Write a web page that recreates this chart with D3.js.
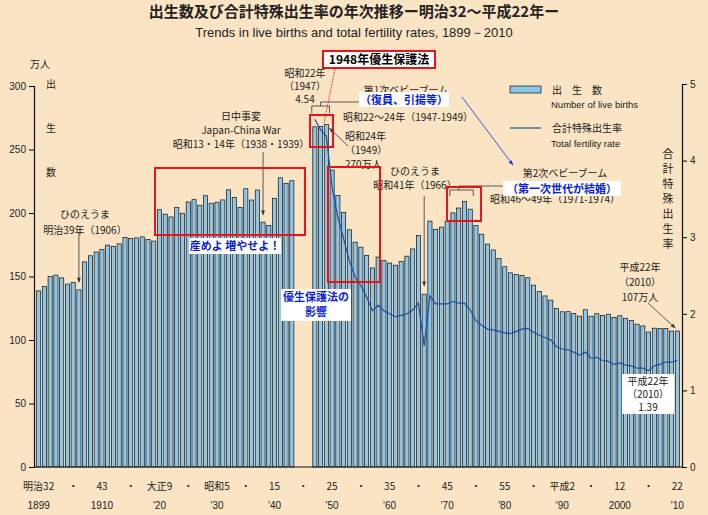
<!DOCTYPE html>
<html><head><meta charset="utf-8">
<script src="https://cdn.jsdelivr.net/npm/d3@7"></script>
<style>body{margin:0;background:#fbe4c4;} svg{display:block;font-family:"Noto Sans CJK JP","Liberation Sans",sans-serif;}</style>
</head><body>
<svg id="chart" width="708" height="515"></svg>
<script>
// births (10k persons), 1899-2010; null = no data
var years = d3.range(1899, 2011);
var births = [138.7,142.1,150.1,151.1,148.9,144.0,145.3,139.5,161.5,166.3,169.3,171.2,174.7,173.7,175.7,180.8,179.9,180.4,181.2,179.2,177.9,
  202.6,199.1,196.9,204.3,199.8,208.7,210.5,206.1,213.6,207.7,208.5,210.3,218.3,212.1,204.4,219.1,210.2,218.1,192.8,190.2,211.6,227.7,223.4,225.4,
  null,null,null,
  267.9,268.2,269.7,233.8,213.8,200.5,186.8,177.0,173.1,166.5,156.7,165.3,162.6,160.6,158.9,161.9,166.0,171.7,182.4,136.1,193.6,187.2,188.9,
  193.4,200.1,203.9,209.2,203.0,190.1,183.3,175.5,170.9,164.3,157.7,152.9,151.5,150.9,149.0,143.2,138.3,134.7,131.4,124.7,122.2,122.3,120.9,
  118.8,123.8,118.7,120.7,119.2,120.3,117.8,119.1,117.1,115.4,112.4,111.1,106.3,109.3,109.0,109.1,107.0,107.1];
var tfrYears = d3.range(1947, 2011);
var tfr = [4.54,4.40,4.32,3.65,3.26,2.98,2.69,2.48,2.37,2.22,2.04,2.11,2.04,2.00,1.96,1.98,2.00,2.05,2.14,1.58,2.23,2.13,2.13,2.13,2.16,2.14,
  2.14,2.05,1.91,1.85,1.80,1.79,1.77,1.75,1.74,1.77,1.80,1.81,1.76,1.72,1.69,1.66,1.57,1.54,1.53,1.50,1.46,1.50,1.42,1.43,1.39,1.38,1.34,
  1.36,1.33,1.32,1.29,1.29,1.26,1.32,1.34,1.37,1.37,1.39];
var tickYears = [1899,1910,1920,1930,1940,1950,1960,1970,1980,1990,2000,2010];
var tickEra = ["明治32","43","大正9","昭和5","15","25","35","45","55","平成2","12","22"];
var tickWestern = ["1899","1910","'20","'30","'40","'50","'60","'70","'80","'90","2000","'10"];
var dotYears = [1905,1915,1925,1935,1945,1955,1965,1975,1985,1995,2005];

var svg = d3.select("#chart");
var mLeft = 34, mRight = 682, mTop = 86, mBottom = 467;

var x = d3.scaleBand().domain(years).range([mLeft + 2, mRight - 2]).paddingInner(0.28).paddingOuter(0.1);
var y = d3.scaleLinear().domain([0, 300]).range([mBottom, mTop]);
var y2 = d3.scaleLinear().domain([0, 5]).range([mBottom, 84]);
var cx = function(yr) { return x(yr) + x.bandwidth() / 2; };

// titles
svg.append("text").attr("x", 354).attr("y", 17).attr("text-anchor", "middle").attr("font-size", 15).attr("font-weight", "bold").attr("fill", "#222")
  .text("出生数及び合計特殊出生率の年次推移ー明治32～平成22年ー");
svg.append("text").attr("x", 354).attr("y", 37).attr("text-anchor", "middle").attr("font-size", 13).attr("fill", "#222")
  .attr("font-family", "Liberation Sans, sans-serif")
  .text("Trends in live births and total fertility rates, 1899－2010");

// bars
svg.append("g").selectAll("rect").data(years.map(function(d, i) { return {yr: d, v: births[i]}; }).filter(function(d) { return d.v != null; }))
  .enter().append("rect")
  .attr("x", function(d) { return x(d.yr); }).attr("width", x.bandwidth())
  .attr("y", function(d) { return y(d.v); }).attr("height", function(d) { return mBottom - y(d.v); })
  .attr("fill", "#8ec6ea").attr("stroke", "#111").attr("stroke-width", 0.7);

// TFR line
svg.append("path").datum(tfrYears.map(function(d, i) { return [d, tfr[i]]; }))
  .attr("d", d3.line().x(function(d) { return cx(d[0]); }).y(function(d) { return y2(d[1]); }))
  .attr("fill", "none").attr("stroke", "#1b4fa3").attr("stroke-width", 1.2);

// axes
var gl = svg.append("g").attr("transform", "translate(" + mLeft + ",0)").call(d3.axisLeft(y).tickValues(d3.range(0, 301, 50)).tickSize(5));
var gr = svg.append("g").attr("transform", "translate(" + mRight + ",0)").call(d3.axisRight(y2).ticks(5).tickSize(5));
[gl, gr].forEach(function(g) {
  g.select(".domain").attr("stroke", "#111").attr("stroke-width", 1.2);
  g.selectAll("text").attr("font-size", 10).attr("font-family", "Liberation Sans, sans-serif").attr("fill", "#222");
});
svg.append("line").attr("x1", mLeft).attr("x2", mRight).attr("y1", mBottom).attr("y2", mBottom).attr("stroke", "#111").attr("stroke-width", 1.2);

// x labels
var xl = svg.append("g").attr("font-size", 10).attr("fill", "#222").attr("text-anchor", "middle");
tickYears.forEach(function(yr, i) {
  xl.append("text").attr("x", cx(yr)).attr("y", 490).text(tickEra[i]);
  xl.append("text").attr("x", cx(yr)).attr("y", 509).attr("font-family", "Liberation Sans, sans-serif").text(tickWestern[i]);
});
dotYears.forEach(function(yr) { xl.append("text").attr("x", cx(yr)).attr("y", 490).text("・"); });

// axis titles
svg.append("text").attr("x", 30).attr("y", 68).attr("font-size", 10).attr("fill", "#222").text("万人");
["出", "生", "数"].forEach(function(c, i) {
  svg.append("text").attr("x", 46).attr("y", 88 + i * 44).attr("font-size", 10).attr("fill", "#222").text(c);
});
"合計特殊出生率".split("").forEach(function(c, i) {
  svg.append("text").attr("x", 668).attr("y", 158 + i * 15).attr("text-anchor", "middle").attr("font-size", 11).attr("fill", "#222").text(c);
});

// legend
svg.append("rect").attr("x", 510).attr("y", 86).attr("width", 31).attr("height", 7).attr("fill", "#8ec6ea").attr("stroke", "#111").attr("stroke-width", 0.7);
svg.append("text").attr("x", 552).attr("y", 94).attr("font-size", 10).attr("fill", "#222").text("出　生　数");
svg.append("text").attr("x", 551).attr("y", 108).attr("font-size", 9.5).attr("fill", "#222").attr("font-family", "Liberation Sans, sans-serif").text("Number of live births");
svg.append("line").attr("x1", 510).attr("x2", 541).attr("y1", 128).attr("y2", 128).attr("stroke", "#1b4fa3").attr("stroke-width", 1.2);
svg.append("text").attr("x", 552).attr("y", 132).attr("font-size", 10).attr("fill", "#222").text("合計特殊出生率");
svg.append("text").attr("x", 551).attr("y", 147).attr("font-size", 9.5).attr("fill", "#222").attr("font-family", "Liberation Sans, sans-serif").text("Total fertility rate");

// text annotations
function note(lines, px, py, opt) {
  opt = opt || {};
  var t = svg.append("text").attr("x", px).attr("y", py).attr("text-anchor", opt.anchor || "middle")
    .attr("font-size", opt.size || 10).attr("fill", opt.fill || "#222").attr("font-weight", opt.bold ? "bold" : null);
  lines.forEach(function(l, i) { t.append("tspan").attr("x", px).attr("dy", i ? (opt.lh || 14) : 0).text(l); });
  return t;
}
function arrow(x1, y1, x2, y2, col) {
  svg.append("line").attr("x1", x1).attr("y1", y1).attr("x2", x2).attr("y2", y2).attr("stroke", col || "#333").attr("stroke-width", 0.8);
  var a = Math.atan2(y2 - y1, x2 - x1), s = 5;
  svg.append("path").attr("d", "M" + x2 + "," + y2 + "L" + (x2 - s * Math.cos(a - 0.4)) + "," + (y2 - s * Math.sin(a - 0.4)) +
    "L" + (x2 - s * Math.cos(a + 0.4)) + "," + (y2 - s * Math.sin(a + 0.4)) + "Z").attr("fill", col || "#333");
}
function box(x0, y0, w, h) {
  svg.append("rect").attr("x", x0).attr("y", y0).attr("width", w).attr("height", h).attr("fill", "none").attr("stroke", "#e8141c").attr("stroke-width", 2);
}
function label(lines, px, py, w, h, col) {
  svg.append("rect").attr("x", px - w / 2).attr("y", py - 12).attr("width", w).attr("height", h).attr("fill", "#fff");
  note(lines, px, py, {bold: true, fill: col, size: 11, lh: 15});
}

note(["ひのえうま", "明治39年（1906）"], 85, 218, {lh: 16});
arrow(cx(1906), 232, cx(1906), y(143) - 3);
note(["日中事変", "Japan-China War", "昭和13・14年（1938・1939）"], 241, 120, {lh: 14});
arrow(cx(1938), 152, cx(1938), y(196) - 3);
note(["昭和22年", "（1947）", "4.54"], 305, 77, {lh: 13});
svg.append("path").attr("d", "M" + (x(1947) - 1) + ",113V106H" + (x(1949) + x.bandwidth() + 1) + "V113 M" + cx(1948) + ",106V102H" + (x(1949) + x.bandwidth() + 1))
  .attr("fill", "none").attr("stroke", "#333").attr("stroke-width", 0.8);
svg.append("line").attr("x1", x(1949) + x.bandwidth() + 1).attr("x2", 362).attr("y1", 102).attr("y2", 102).attr("stroke", "#333").attr("stroke-width", 0.8);
note(["昭和24年", "（1949）", "270万人"], 345, 140, {anchor: "start", lh: 14});
arrow(348, 146, cx(1949) + 3, y(270) + 4);
note(["第1次ベビーブーム"], 406, 94);
note(["昭和22～24年（1947-1949）"], 408, 121);
note(["ひのえうま", "昭和41年（1966）"], 415, 175, {lh: 14});
arrow(cx(1966), 196, cx(1966), y(140) - 3);
note(["第2次ベビーブーム"], 565, 177);
note(["昭和46～49年（1971-1974）"], 555, 203);
svg.append("path").attr("d", "M" + (x(1971) - 1) + ",196V190H" + (x(1974) + x.bandwidth() + 1) + "V196 M" + cx(1972) + ",190V186H520")
  .attr("fill", "none").attr("stroke", "#333").attr("stroke-width", 0.8);
note(["平成22年", "（2010）", "107万人"], 640, 271, {lh: 15});
arrow(648, 303, cx(2010) - 2, y(107) - 3);
svg.append("rect").attr("x", 622).attr("y", 374).attr("width", 52).attr("height", 40).attr("fill", "#fff");
note(["平成22年", "（2010）", "1.39"], 648, 385, {lh: 13});

// red boxes and blue labels
box(155, 168, 150, 67);
box(310, 115, 23, 32);
box(328, 167, 52, 115);
box(447, 187, 34, 34);
svg.append("rect").attr("x", 323).attr("y", 51).attr("width", 112).attr("height", 17).attr("fill", "#fff").attr("stroke", "#e8141c").attr("stroke-width", 2);
note(["1948年優生保護法"], 379, 64, {bold: true, size: 12, fill: "#000"});
svg.append("line").attr("x1", 335).attr("y1", 69).attr("x2", 324).attr("y2", 123).attr("stroke", "#e8141c").attr("stroke-width", 0.8).attr("stroke-dasharray", "2,1");
label(["産めよ 増やせよ！"], 235, 250, 92, 16, "#0a1ee0");
label(["優生保護法の", "影響"], 316, 301, 70, 32, "#0a1ee0");
label(["（復員、引揚等）"], 404, 104, 90, 15, "#0a1ee0");
label(["（第一次世代が結婚）"], 562, 193, 118, 15, "#0a1ee0");
arrow(462, 97, 513, 165, "#1030e8");
</script>
</body></html>
